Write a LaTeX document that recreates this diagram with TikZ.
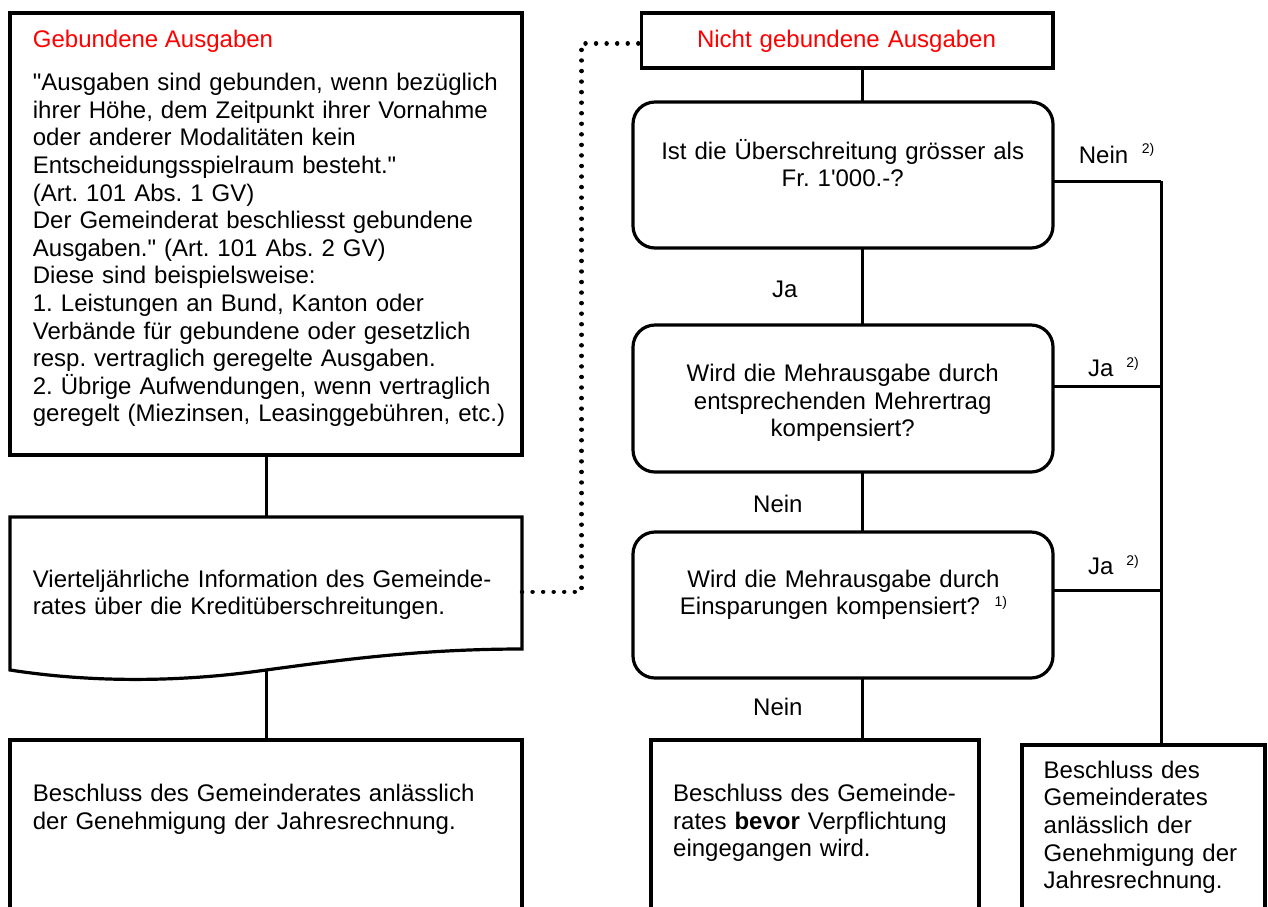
\documentclass[tikz,border=0pt]{standalone}
\usepackage{fontspec}
\setmainfont{Liberation Sans}
\newcommand\mysup[2]{\raisebox{#1}{\fontsize{14}{16}\selectfont #2}}
\newcommand\dq{\textquotedbl}
\newcommand\sq{\textquotesingle}
\begin{document}
\frenchspacing
\begin{tikzpicture}[x=1pt,y=-1pt,
  box/.style={draw,line width=3.2pt,inner sep=0pt,outer sep=0pt,anchor=north west},
  ghost/.style={inner sep=0pt,outer sep=0pt,anchor=north west},
  dec/.style={box,rounded corners=22pt},
  conn/.style={line width=3pt},
  dots/.style={line width=4.4pt,line cap=round,dash pattern=on 0.05pt off 10.5pt},
  txt/.style={inner sep=0pt,font=\fontsize{24}{27.6}\selectfont\frenchspacing,align=left,anchor=base west},
  ctxt/.style={inner sep=0pt,font=\fontsize{24}{27.6}\selectfont\frenchspacing,align=center,anchor=base},
  lbl/.style={inner sep=0pt,font=\fontsize{24}{27.6}\selectfont,anchor=base west},
]
\useasboundingbox (0,0) rectangle (1268,906);
\clip (0,0) rectangle (1268,906);

% left column
\node[box,minimum width=512pt,minimum height=442pt] (gb) at (10,13) {};
\node[ghost,minimum width=512pt,minimum height=153pt] (doc) at (10,517) {};
\draw[line width=3.2pt,line join=miter] (doc.south west) -- (doc.north west) -- (doc.north east) -- ([yshift=21pt]doc.south east)
  .. controls (420,649) and (340,660) .. (266,670)
  .. controls (190,681) and (100,684) .. (doc.south west) -- cycle;
\node[box,minimum width=512pt,minimum height=300pt] (bl) at (10,740) {};

\node[txt,red] (tgbt) at (32.7,47.3) {Gebundene Ausgaben};
\node[txt,text width=495pt] (tgb) at (32.7,90.7) {\dq Ausgaben sind gebunden, wenn bezüglich\\
ihrer Höhe, dem Zeitpunkt ihrer Vornahme\\
oder anderer Modalitäten kein\\
Entscheidungsspielraum besteht.\dq\\
(Art. 101 Abs. 1 GV)\\
Der Gemeinderat beschliesst gebundene\\
Ausgaben.\dq{} (Art. 101 Abs. 2 GV)\\
Diese sind beispielsweise:\\
1. Leistungen an Bund, Kanton oder\\
Verbände für gebundene oder gesetzlich\\
resp. vertraglich geregelte Ausgaben.\\
2. Übrige Aufwendungen, wenn vertraglich\\
geregelt (Miezinsen, Leasinggebühren, etc.)};
\node[txt,text width=495pt] (tdoc) at (32.7,587) {Vierteljährliche Information des Gemeinde-\\rates über die Kreditüberschreitungen.};
\node[txt,text width=495pt] (tbl) at (32.7,801.7) {Beschluss des Gemeinderates anlässlich\\der Genehmigung der Jahresrechnung.};

\draw[conn] (gb.south) -- (doc.north);
\draw[conn] (doc.south) -- (bl.north);

% right column
\node[box,minimum width=411.5pt,minimum height=55pt] (ngb) at (641.5,13) {};
\node[dec,minimum width=420pt,minimum height=146pt] (q1) at (633,102) {};
\node[dec,minimum width=420pt,minimum height=147pt] (q2) at (633,325) {};
\node[dec,minimum width=420pt,minimum height=146pt] (q3) at (633,532) {};
\node[box,minimum width=328pt,minimum height=300pt] (bm) at (651,740) {};
\node[box,minimum width=243pt,minimum height=300pt] (br) at (1022,745) {};

\node[ctxt,red,text width=400pt] (tngb) at (846.5,47.3) {Nicht gebundene Ausgaben};
\node[ctxt,text width=400pt] (tq1) at (842.7,159.3) {Ist die Überschreitung grösser als\\Fr. 1\sq 000.-?};
\node[ctxt,text width=400pt] (tq2) at (842.7,381.6) {Wird die Mehrausgabe durch\\entsprechenden Mehrertrag\\kompensiert?};
\node[ctxt,text width=400pt] (tq3) at (843.5,587.3) {Wird die Mehrausgabe durch\\Einsparungen kompensiert?\hspace{14.5pt}\mysup{8pt}{1)}};
\node[txt,text width=300pt] (tbm) at (673,801.7) {Beschluss des Gemeinde-\\rates \textbf{bevor} Verpflichtung\\eingegangen wird.};
\node[txt,text width=225pt] (tbr) at (1043.5,778.3) {Beschluss des\\Gemeinderates\\anlässlich der\\Genehmigung der\\Jahresrechnung.};

\coordinate (spine) at (862,0);
\draw[conn] (spine |- ngb.south) -- (spine |- q1.north);
\draw[conn] (spine |- q1.south) -- (spine |- q2.north);
\draw[conn] (spine |- q2.south) -- (spine |- q3.north);
\draw[conn] (spine |- q3.south) -- (spine |- bm.north);

\coordinate (j1) at (1161.3,181);
\coordinate (j2) at (1161.3,386);
\coordinate (j3) at (1161.3,590);
\draw[conn] (q1.east |- j1) -- (j1);
\draw[conn] (q2.east |- j2) -- (j2);
\draw[conn] (q3.east |- j3) -- (j3);
\draw[conn] (j1) -- (j1 |- br.north);

\node[lbl] (l1) at (1078.7,163.3) {Nein\hspace{13.5pt}\mysup{9.5pt}{2)}};
\node[lbl] (l2) at (772,297.7) {Ja};
\node[lbl] (l3) at (1087.8,376.7) {Ja\hspace{13pt}\mysup{9.5pt}{2)}};
\node[lbl] (l4) at (753,512.7) {Nein};
\node[lbl] (l5) at (1087.8,574) {Ja\hspace{13pt}\mysup{9pt}{2)}};
\node[lbl] (l6) at (753,715) {Nein};

% dotted link
\coordinate (d1) at (581.6,591.7);
\coordinate (d2) at (581.6,43.3);
\draw[dots] (d1 -| doc.east) -- (d1) -- (d2) -- (d2 -| ngb.west);
\end{tikzpicture}
\end{document}
